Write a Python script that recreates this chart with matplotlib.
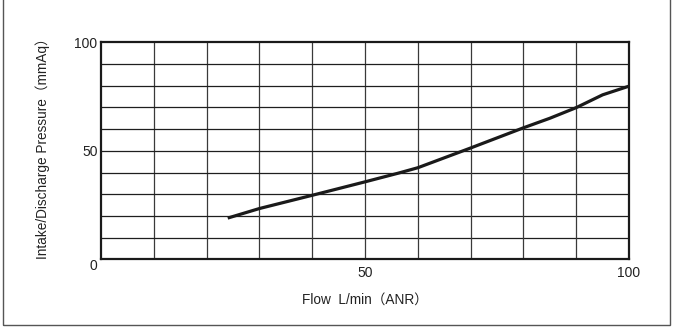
import matplotlib
matplotlib.use("Agg")
import matplotlib.pyplot as plt
from matplotlib.patches import Rectangle

flow = [24, 30, 40, 50, 56.3, 60, 70, 80, 85, 90, 95, 100]
pressure = [19, 23.4, 29.5, 35.7, 39.7, 42.2, 51.3, 60.6, 65.0, 69.9, 75.8, 79.8]
x_ticks = [50, 100]
y_ticks = [0, 50, 100]
x_label = "Flow  L/min（ANR）"
y_label = "Intake/Discharge Pressure（mmAq）"

fam = ['Liberation Sans', 'Noto Sans CJK JP', 'DejaVu Sans']
plt.rcParams['font.family'] = fam

fig = plt.figure(figsize=(6.75, 3.27), dpi=100)
fig.patches.append(Rectangle((0.005, 0.006), 0.988, 1.2, transform=fig.transFigure,
                             fill=False, edgecolor='#555555', linewidth=1.0))
ax = fig.add_axes([0.1496, 0.207, 0.7823, 0.6636])
ax.set_xlim(0, 100)
ax.set_ylim(0, 100)

for v in range(10, 100, 10):
    ax.axvline(v, color='#3a3a3a', linewidth=0.9, zorder=1)
    ax.axhline(v, color='#1e1e1e', linewidth=0.9, zorder=1)

ax.plot(flow, pressure, color='#1a1a1a', linewidth=2.3, solid_capstyle='butt',
        solid_joinstyle='round', zorder=3)

for s in ax.spines.values():
    s.set_linewidth(1.6)
    s.set_color('#1a1a1a')

ax.set_xticks(x_ticks)
ax.set_yticks(y_ticks)
ax.set_xticklabels([str(t) for t in x_ticks])
ax.set_yticklabels([str(t) for t in y_ticks])
ax.tick_params(length=0, labelsize=10, colors='#222222')
ax.tick_params(axis='x', pad=5)
ax.tick_params(axis='y', pad=2.5)
ax.get_yticklabels()[0].set_verticalalignment('top')
ax.set_xlabel(x_label, fontsize=9.8, color='#222222', labelpad=9)
ax.set_ylabel(y_label, fontsize=9.8, color='#222222')
ax.yaxis.set_label_coords(-0.097, 0.527)

fig.savefig("out.png", dpi=100)
